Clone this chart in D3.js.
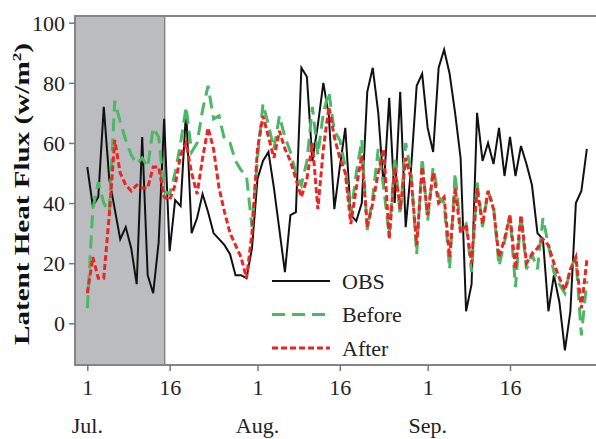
<!DOCTYPE html>
<html>
<head>
<meta charset="utf-8">
<script src="https://cdn.jsdelivr.net/npm/d3@7/dist/d3.min.js"></script>
<style>
  body { margin: 0; background: #fff; }
  .tick text { font-family: "Liberation Serif", "Times New Roman", serif; font-size: 22px; fill: #222; }
  .legend-text { font-family: "Liberation Serif", "Times New Roman", serif; font-size: 22px; fill: #222; }
  .y-title { font-family: "Liberation Serif", "Times New Roman", serif; font-size: 22px; font-weight: bold; fill: #111; }
</style>
</head>
<body>
<div id="chart"></div>
<script>
var width = 596;
var height = 439;

// plot frame (pixels)
var frame = {left: 75, top: 16, right: 600, bottom: 365};

// daily series, 1 Jul .. 30 Sep
var obs = [52, 39, 42, 72, 48, 38, 28, 32, 25, 13, 62, 16, 10, 27, 68, 24,
  41, 39, 71, 30, 35, 43, 37, 30, 28, 26, 23, 16, 16, 15, 25, 48,
  54, 57, 45, 31, 17, 36, 37, 85, 82, 54, 66, 80, 69, 38,
  52, 65, 36, 34, 40, 77, 85, 70, 45, 75, 40, 77, 32, 52, 79, 83,
  65, 57, 85, 91, 83, 70, 55, 4, 13, 70, 54, 60, 53, 65, 49,
  62, 49, 59, 53, 46, 30, 28, 4, 16, 7, -9, 4, 40, 44, 58];

var before = [5, 38, 47, 40, 37, 74, 67, 61, 56, 53, 55, 52, 65, 62, 44, 43,
  50, 60, 72, 57, 60, 71, 79, 68, 69, 61, 60, 54, 51, 49, 32, 55,
  73, 66, 58, 69, 62, 57, 50, 46, 54, 72, 56, 70, 77, 64,
  61, 52, 36, 50, 61, 31, 42, 58, 45, 29, 55, 36, 60, 50, 23, 55,
  34, 52, 42, 40, 18, 50, 31, 33, 17, 47, 32, 44, 39, 19, 27,
  36, 12, 36, 18, 23, 18, 35, 26, 17, 13, 10, 18, 22, -4, 14];

var after = [10, 22, 15, 15, 36, 61, 50, 46, 44, 46, 45, 45, 52, 52, 42, 41,
  46, 56, 60, 50, 43, 55, 65, 58, 45, 37, 30, 26, 22, 15, 30, 58,
  69, 62, 55, 64, 58, 54, 48, 42, 48, 60, 38, 58, 72, 62,
  55, 50, 33, 45, 56, 32, 40, 50, 58, 28, 52, 38, 55, 48, 26, 52,
  36, 50, 40, 42, 22, 45, 30, 33, 20, 45, 33, 44, 38, 22, 28,
  36, 18, 36, 20, 23, 25, 28, 26, 20, 15, 11, 18, 22, 5, 21];

var startDate = new Date(Date.UTC(2010, 6, 1));
var shadeEnd = new Date(Date.UTC(2010, 6, 15));
var dayTicks = [new Date(Date.UTC(2010, 6, 1)), new Date(Date.UTC(2010, 6, 16)),
  new Date(Date.UTC(2010, 7, 1)), new Date(Date.UTC(2010, 7, 16)),
  new Date(Date.UTC(2010, 8, 1)), new Date(Date.UTC(2010, 8, 16))];
var monthNames = ["Jul.", "Aug.", "Sep."];
var yTicks = [0, 20, 40, 60, 80, 100];

var seriesInfo = [
  {name: "OBS", values: obs, colour: "#111111", dash: null, w: 2},
  {name: "Before", values: before, colour: "#4cb865", dash: "13,7", w: 3},
  {name: "After", values: after, colour: "#ee2424", dash: "6,3", w: 3}
];

var svg = d3.select("#chart")
            .append("svg")
              .attr("width", width)
              .attr("height", height);

// scales
var xScale = d3.scaleUtc()
                .domain([startDate, dayTicks[5]])
                .range([87.3, 510]);

var yScale = d3.scaleLinear()
                .domain([0, 100])
                .range([323.3, 22.7]);

function day(i) {
  return d3.utcDay.offset(startDate, i);
}

// shaded spin-up period
svg.append("rect")
    .attr("x", frame.left)
    .attr("y", frame.top)
    .attr("width", xScale(shadeEnd) - frame.left + 0.6)
    .attr("height", frame.bottom - frame.top)
    .attr("fill", "#bbbcbf");

svg.append("line")
    .attr("x1", xScale(shadeEnd) + 0.6)
    .attr("x2", xScale(shadeEnd) + 0.6)
    .attr("y1", frame.top)
    .attr("y2", frame.bottom)
    .attr("stroke", "#777")
    .attr("stroke-width", 1.2);

// lines
var line = d3.line()
              .x(function(d, i) { return xScale(day(i)); })
              .y(function(d) { return yScale(d); });

seriesInfo.forEach(function(s) {
  svg.append("path")
      .datum(s.values)
      .attr("fill", "none")
      .attr("stroke", s.colour)
      .attr("stroke-width", s.w)
      .attr("stroke-dasharray", s.dash)
      .attr("d", line);
});

// frame
svg.append("rect")
    .attr("x", frame.left)
    .attr("y", frame.top)
    .attr("width", frame.right - frame.left)
    .attr("height", frame.bottom - frame.top)
    .attr("fill", "none")
    .attr("stroke", "#858585")
    .attr("stroke-width", 2);

// axes
var xAxis = d3.axisBottom(xScale)
              .tickValues(dayTicks)
              .tickFormat(d3.utcFormat("%-d"))
              .tickSize(6)
              .tickPadding(8);

var yAxis = d3.axisLeft(yScale)
              .tickValues(yTicks)
              .tickSize(6)
              .tickPadding(4);

var gx = svg.append("g")
      .attr("class", "axis x-axis")
      .attr("transform", "translate(0," + frame.bottom + ")")
      .call(xAxis);

var gy = svg.append("g")
      .attr("class", "axis y-axis")
      .attr("transform", "translate(" + frame.left + ",0)")
      .call(yAxis);

[gx, gy].forEach(function(g) {
  g.select(".domain").remove();
  g.selectAll(".tick line").attr("stroke", "#777").attr("stroke-width", 1.5);
});

gy.selectAll(".tick text").attr("dy", "0.34em");

// month labels
svg.selectAll(".month")
    .data(monthNames)
    .enter()
  .append("text")
    .attr("class", "legend-text")
    .attr("text-anchor", "middle")
    .attr("x", function(d, i) { return xScale(dayTicks[i * 2]); })
    .attr("y", 433)
    .text(function(d) { return d; });

// y title (stretched along its length like the original)
var yTitle = svg.append("text")
      .attr("class", "y-title")
      .attr("text-anchor", "middle");
yTitle.append("tspan").text("Latent Heat Flux (w/m");
yTitle.append("tspan").attr("dy", -8).style("font-size", "13px").text("2");
yTitle.append("tspan").attr("dy", 8).text(")");
var titleLen = yTitle.node().getComputedTextLength();
var stretch = 302 / titleLen;
yTitle.attr("transform", "translate(29,194) rotate(-90) scale(" + stretch + ",1)");

// legend
var legend = svg.append("g")
      .attr("class", "legend")
      .attr("transform", "translate(272,281)");

legend.selectAll(".legend-line")
    .data(seriesInfo)
    .enter()
  .append("line")
    .attr("x1", 0)
    .attr("x2", 58)
    .attr("y1", function(d, i) { return i * 33.5; })
    .attr("y2", function(d, i) { return i * 33.5; })
    .attr("stroke", function(d) { return d.colour; })
    .attr("stroke-width", function(d) { return d.w; })
    .attr("stroke-dasharray", function(d) { return d.dash; });

legend.selectAll(".legend-text")
    .data(seriesInfo)
    .enter()
  .append("text")
    .attr("class", "legend-text")
    .attr("x", 70)
    .attr("y", function(d, i) { return i * 33.5 + 7.5; })
    .text(function(d) { return d.name; });
</script>
</body>
</html>
